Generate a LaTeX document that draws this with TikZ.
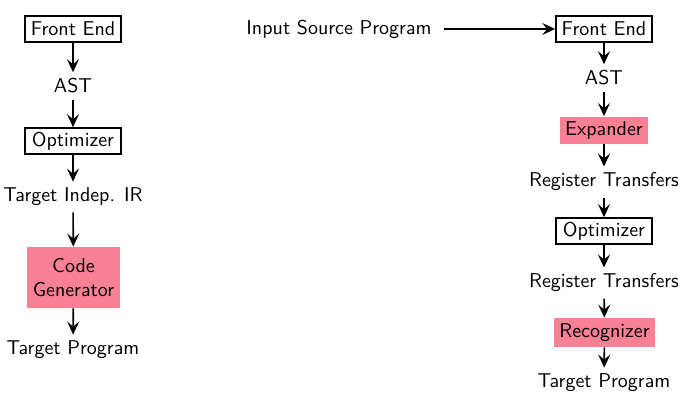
\documentclass[tikz,border=0pt]{standalone}
\usepackage{fontspec}
\usetikzlibrary{arrows.meta}
\definecolor{codepink}{RGB}{250,128,150}
\begin{document}
\begin{tikzpicture}[x=0.5pt,y=-0.5pt,
  font=\sffamily\fontsize{10}{12}\selectfont,
  box/.style={draw, line width=0.8pt, minimum width=48pt, minimum height=13pt, inner sep=0pt},
  pinkbox/.style={fill=codepink, inner sep=0pt},
  lbl/.style={inner sep=3pt},
  arr/.style={-{Stealth[length=6.5pt,width=6pt,inset=2.5pt]}, line width=0.8pt}]
\useasboundingbox (0,0) rectangle (693,408);
% left column
\node[box] (lfe) at (73,29) {Front End};
\node[lbl] (last) at (73,86) {AST};
\node[box] (lopt) at (73,141) {Optimizer};
\node[lbl] (lir) at (73,197) {Target Indep. IR};
\node[pinkbox, minimum width=46.5pt, minimum height=30.5pt, align=center] (lcg) at (73.5,277.5) {Code\\Generator};
\node[lbl] (ltp) at (73,350) {Target Program};
\draw[arr] (lfe) -- (last);
\draw[arr] (last) -- (lopt);
\draw[arr] (lopt) -- (lir);
\draw[arr] (lir) -- (lcg);
\draw[arr] (lcg) -- (ltp);
% right column
\node[lbl, inner sep=6pt] (isp) at (339,29) {Input Source Program};
\node[box] (rfe) at (604,29) {Front End};
\node[lbl] (rast) at (604,78) {AST};
\node[pinkbox, minimum width=44pt, minimum height=13.5pt] (rexp) at (604,130) {Expander};
\node[lbl] (rrt1) at (604,182) {Register Transfers};
\node[box] (ropt) at (604,231) {Optimizer};
\node[lbl] (rrt2) at (604,283) {Register Transfers};
\node[pinkbox, minimum width=50.5pt, minimum height=14.5pt] (rrec) at (604.5,332.5) {Recognizer};
\node[lbl] (rtp) at (604,383) {Target Program};
\draw[arr] (isp.east) -- (rfe.west);
\draw[arr] (rfe) -- (rast);
\draw[arr] (rast) -- (rexp);
\draw[arr] (rexp) -- (rrt1);
\draw[arr] (rrt1) -- (ropt);
\draw[arr] (ropt) -- (rrt2);
\draw[arr] (rrt2) -- (rrec);
\draw[arr] (rrec) -- (rtp);
\end{tikzpicture}
\end{document}
